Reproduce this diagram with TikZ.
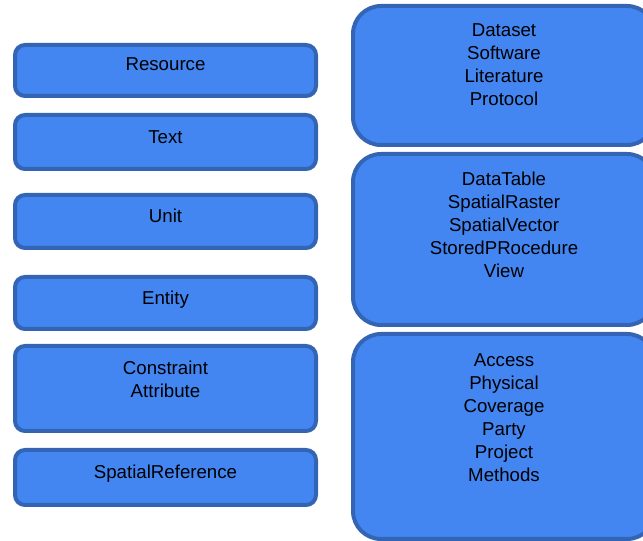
\documentclass[tikz,border=0pt]{standalone}
\usepackage{fontspec}
\setmainfont{Liberation Sans}
\usetikzlibrary{positioning}
\definecolor{boxfill}{RGB}{67,134,242}
\definecolor{boxline}{RGB}{52,101,180}
\tikzset{
  plain box/.style={
    draw=boxline,
    fill=boxfill,
    line width=3pt,
    inner sep=0pt
  },
  small box/.style={
    plain box,
    rounded corners=7.5pt,
    minimum width=225.75pt
  },
  big box/.style={
    plain box,
    rounded corners=21pt,
    minimum width=226.5pt
  },
  box text/.style={
    align=center,
    inner sep=0pt,
    text depth=0pt,
    font=\fontsize{14pt}{17.25pt}\selectfont
  }
}

\begin{document}
\begin{tikzpicture}[x=0.75pt, y=-0.75pt]
   \clip (0,0) rectangle (643,541);
   \useasboundingbox (0,0) rectangle (643,541);

   % left column
   \node[small box, minimum height=38.25pt] (resource) at (165.5,70.5) {};
   \node[small box, minimum height=40.5pt]  (text)     at (165.5,142) {};
   \node[small box, minimum height=39.75pt] (unit)     at (165.5,221.5) {};
   \node[small box, minimum height=39pt]    (entity)   at (165.5,303) {};
   \node[small box, minimum height=63.75pt] (constr)   at (165.5,388.5) {};
   \node[small box, minimum height=41.25pt] (spatref)  at (165.5,477.5) {};

   \node[box text] (resource label) at (165.5,64)  {Resource};
   \node[box text] (text label)     at (165.5,137) {Text};
   \node[box text] (unit label)     at (165.5,216) {Unit};
   \node[box text] (entity label)   at (165.5,298) {Entity};
   \node[box text] (constr label)   at (165.5,379) {Constraint\\Attribute};
   \node[box text] (spatref label)  at (165.5,472) {SpatialReference};

   % right column
   \node[big box, minimum height=104.25pt]  (resources) at (504,75.5)  {};
   \node[big box, minimum height=128.25pt]  (entities)  at (504,239.5) {};
   \node[big box, minimum height=153.75pt]  (modules)   at (504,436.5) {};

   \node[box text] (resources label) at (504,64.5)
     {Dataset\\Software\\Literature\\Protocol};
   \node[box text] (entities label)  at (504,225)
     {DataTable\\SpatialRaster\\SpatialVector\\StoredPRocedure\\View};
   \node[box text] (modules label)   at (504,417.5)
     {Access\\Physical\\Coverage\\Party\\Project\\Methods};
\end{tikzpicture}
\end{document}
